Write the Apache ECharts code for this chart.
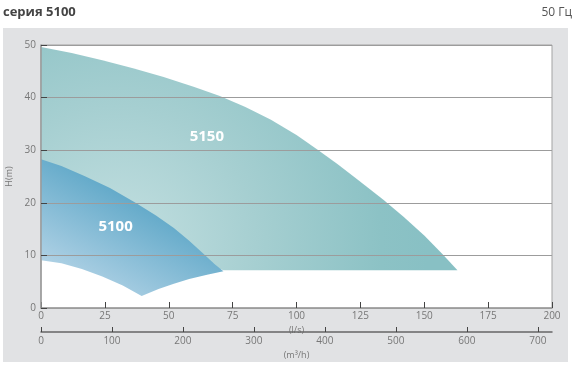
<!DOCTYPE html>
<html>
<head>
<meta charset="utf-8">
<script src="https://cdn.jsdelivr.net/npm/echarts@6/dist/echarts.min.js"></script>
<style>
  html, body { margin: 0; padding: 0; background: #ffffff; }
  #wrap { position: relative; width: 573px; height: 366px; }
  #panel { position: absolute; left: 3px; top: 28px; width: 565px; height: 334px; background: #e1e2e4; }
  #chart { position: absolute; left: 0; top: 0; width: 573px; height: 366px; }
</style>
</head>
<body>
<div id="wrap"><div id="panel"></div><div id="chart"></div></div>
<script>
// Flow axis (l/s) ticks and second flow axis (m³/h) ticks
const flowTicksLs = [0, 25, 50, 75, 100, 125, 150, 175, 200];
const flowTicksM3h = [0, 100, 200, 300, 400, 500, 600, 700];
const headTicks = [0, 10, 20, 30, 40, 50];

// 5150 envelope: upper head curve [Q l/s, H m]
const upper5150 = [[0,49.6],[12,48.5],[24,47.1],[36,45.6],[48,43.9],[60,42.0],[70,40.3],[80,38.2],[90,35.8],[100,32.9],[108,30.2],[116,27.4],[124,24.4],[134,20.6],[142,17.3],[150,13.8],[157,10.3],[163,7.2]];
// 5150 lower edge (hidden part lies beneath 5100)
const lower5150 = [[71.4,7.2],[0,20]];

// 5100 envelope
const upper5100 = [[0,28.3],[8,27.0],[17,25.1],[27,22.8],[37,20.0],[45,17.6],[52,15.2],[58,12.8],[64,10.1],[68,8.3],[71.4,7.0]];
const lowerRight5100 = [[71.4,7.0],[65,6.3],[58,5.5],[52,4.6],[46,3.6],[39.4,2.3]];
const lowerLeft5100 = [[39.4,2.3],[32,4.3],[24,6.0],[16,7.4],[8,8.5],[0,9.1]];

const labels = [{ name: '5150', pos: [64.9, 32.6] }, { name: '5100', pos: [29.2, 15.5] }];

const poly5150 = upper5150.concat(lower5150);
const poly5100 = upper5100.concat(lowerRight5100, lowerLeft5100);

const chart = echarts.init(document.getElementById('chart'), null, { renderer: 'canvas' });

const FONT = '"Open Sans", "Noto Sans", sans-serif';

function makeRender(points, grad, label) {
  return function (params, api) {
    const pts = points.map(p => api.coord(p));
    const lp = api.coord(label.pos);
    return {
      type: 'group',
      children: [
        { type: 'polygon', shape: { points: pts }, style: { fill: grad } },
        { type: 'text', x: lp[0], y: lp[1], style: { text: label.name, fill: '#ffffff', font: 'bold 15px ' + FONT, textAlign: 'center', textVerticalAlign: 'middle' }, z2: 10 }
      ]
    };
  };
}

const grad5150 = new echarts.graphic.RadialGradient(0.18, 0.9, 1.4, [
  { offset: 0, color: '#c4e0e1' },
  { offset: 0.45, color: '#a6cfd1' },
  { offset: 0.85, color: '#8cc2c5' },
  { offset: 1, color: '#88c0c4' }
]);
const grad5100 = new echarts.graphic.LinearGradient(0.1, 1, 0.45, 0.15, [
  { offset: 0, color: '#c0daeb' },
  { offset: 1, color: '#5aa5c6' }
]);

const option = {
  animation: false,
  backgroundColor: 'transparent',
  title: [
    { text: 'серия 5100', left: 3, top: 6, padding: 0, textStyle: { fontFamily: FONT, fontSize: 13, fontWeight: 'bold', color: '#444' } },
    { text: '50 Гц', right: 1, top: 7, padding: 0, textStyle: { fontFamily: FONT, fontSize: 12, fontWeight: 'normal', color: '#555' } }
  ],
  grid: { left: 41, right: 21, top: 45, bottom: 58, containLabel: false, outerBoundsMode: 'none', show: true, backgroundColor: '#ffffff', borderColor: '#a3a3a3', borderWidth: 1 },
  xAxis: [
    {
      type: 'value', min: 0, max: 200, interval: 25, position: 'bottom',
      name: '(l/s)', nameLocation: 'middle', nameGap: 16,
      nameTextStyle: { fontFamily: FONT, fontSize: 9, color: '#777' },
      axisLine: { show: true, lineStyle: { color: '#9a9a9a', width: 1.5 } },
      axisTick: { show: true, inside: true, length: 6, lineStyle: { color: '#444' }, customValues: flowTicksLs },
      axisLabel: { fontFamily: FONT, fontSize: 10, color: '#777', margin: 3, customValues: flowTicksLs },
      splitLine: { show: false }
    },
    {
      type: 'value', min: 0, max: 720, position: 'bottom', offset: 24,
      name: '(m³/h)', nameLocation: 'middle', nameGap: 16,
      nameTextStyle: { fontFamily: FONT, fontSize: 9, color: '#777' },
      axisLine: { show: true, onZero: false, lineStyle: { color: '#666', width: 1.5 } },
      axisTick: { show: true, inside: true, length: 5, lineStyle: { color: '#444' }, customValues: flowTicksM3h },
      axisLabel: { fontFamily: FONT, fontSize: 10, color: '#777', margin: 4, customValues: flowTicksM3h },
      splitLine: { show: false }
    }
  ],
  yAxis: {
    type: 'value', min: 0, max: 50, interval: 10, z: 5,
    name: 'H(m)', nameLocation: 'middle', nameGap: 26, nameRotate: 90,
    nameTextStyle: { fontFamily: FONT, fontSize: 9, color: '#777' },
    axisLine: { show: true, lineStyle: { color: '#9a9a9a', width: 1.5 } },
    axisTick: { show: true, inside: true, length: 6, lineStyle: { color: '#444' }, customValues: headTicks },
    axisLabel: { fontFamily: FONT, fontSize: 10, color: '#777', margin: 5, customValues: headTicks },
    splitLine: { show: true, lineStyle: { color: '#9c9c9c', width: 1 } }
  },
  series: [
    { type: 'custom', xAxisIndex: 0, yAxisIndex: 0, clip: true, z: 1, data: [[0, 0]], renderItem: makeRender(poly5150, grad5150, labels[0]) },
    { type: 'custom', xAxisIndex: 0, yAxisIndex: 0, clip: true, z: 2, data: [[0, 0]], renderItem: makeRender(poly5100, grad5100, labels[1]) }
  ]
};
chart.setOption(option);
</script>
</body>
</html>
